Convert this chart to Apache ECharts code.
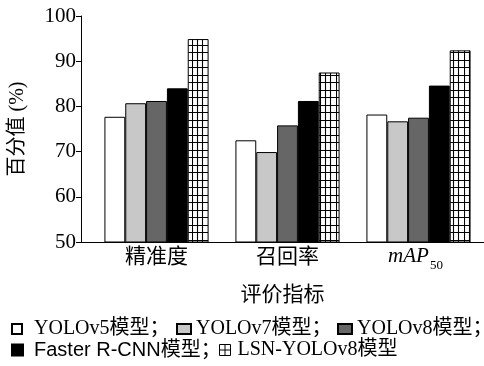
<!DOCTYPE html>
<html>
<head>
<meta charset="utf-8">
<script src="https://cdn.jsdelivr.net/npm/echarts@6/dist/echarts.min.js"></script>
<style>html,body{margin:0;padding:0;background:#fff}#c{width:484px;height:366px}</style>
</head>
<body>
<div id="c"></div>
<script>
const categories = ['精准度', '召回率', 'mAP50'];
const seriesNames = ['YOLOv5模型', 'YOLOv7模型', 'YOLOv8模型', 'Faster R-CNN模型', 'LSN-YOLOv8模型'];
const yolov5 = [77.7, 72.5, 78.2];
const yolov7 = [80.7, 69.9, 76.7];
const yolov8 = [81.2, 75.8, 77.5];
const fasterRcnn = [84.0, 81.2, 84.6];
const lsnYolov8 = [94.9, 87.5, 92.4];
const yMin = 50, yMax = 100, yStep = 10;
const yName = '百分值 (%)';
const xName = '评价指标';

const serif = "'Liberation Serif','Noto Sans CJK SC'";
const sans = "'Liberation Sans','Noto Sans CJK SC'";

const pc = document.createElement('canvas');
pc.width = 16; pc.height = 15;
const g = pc.getContext('2d');
g.fillStyle = '#fff'; g.fillRect(0, 0, 16, 15);
g.strokeStyle = '#000'; g.lineWidth = 1.1;
g.beginPath();
[0.5, 5.5, 10.5].forEach(x => { g.moveTo(x, 0); g.lineTo(x, 15); });
[0.5, 7.5].forEach(y => { g.moveTo(0, y); g.lineTo(16, y); });
g.stroke();

const fills = ['#ffffff', '#c8c8c8', '#666666', '#000000', { image: pc, repeat: 'repeat' }];
const values = [yolov5, yolov7, yolov8, fasterRcnn, lsnYolov8];

const chart = echarts.init(document.getElementById('c'), null, { renderer: 'canvas' });

function legendBox(name, left, top, w, h, padLeft, family, extra) {
  return Object.assign({
    data: [name], left: left, top: top, padding: 0, itemWidth: w, itemHeight: h,
    icon: 'rect', selectedMode: false, formatter: '{name}；',
    textStyle: { fontFamily: family, fontSize: 20, color: '#000', lineHeight: 22, padding: [0, 0, 0, padLeft] }
  }, extra || {});
}

chart.setOption({
  animation: false,
  backgroundColor: '#fff',
  grid: [
    { left: 91, top: 16, width: 404, height: 226 },
    { left: 81, top: 16, right: 0, height: 226 }
  ],
  legend: [
    legendBox(seriesNames[0], 11, 318, 10, 10, 7, serif),
    legendBox(seriesNames[1], 176, 318, 14, 10, 0, serif),
    legendBox(seriesNames[2], 337, 318, 14, 10, 0, serif),
    legendBox(seriesNames[3], 11, 339, 11, 11, 6, sans),
    legendBox({ name: seriesNames[4], icon: 'path://M0,0H10V10H0ZM5,0V10M0,5H10', itemStyle: { color: '#fff', borderColor: '#000', borderWidth: 1 } }, 219, 339, 11, 11, 2, serif, { formatter: '{name}' })
  ],
  xAxis: [
    {
      type: 'category', gridIndex: 0, data: categories,
      axisLine: { show: false }, axisTick: { show: false },
      axisLabel: {
        interval: 0, margin: 4, color: '#000', fontSize: 21, fontFamily: serif, lineHeight: 22,
        formatter: v => v === 'mAP50' ? '{i|mAP}{s|50}{e| }' : v,
        rich: {
          i: { fontStyle: 'italic', fontSize: 21, lineHeight: 22, verticalAlign: 'top', fontFamily: serif, color: '#000' },
          s: { fontSize: 13, lineHeight: 13, padding: [13, 0, 0, 1], verticalAlign: 'top', fontFamily: serif, color: '#000' },
          e: { width: 6, fontSize: 13 }
        }
      }
    },
    {
      type: 'value', gridIndex: 1, min: 0, max: 1,
      axisLine: { show: true, lineStyle: { color: '#000', width: 1 } },
      axisTick: { show: false }, axisLabel: { show: false }, splitLine: { show: false },
      name: xName, nameLocation: 'middle', nameGap: 43,
      nameTextStyle: { fontSize: 21, fontFamily: serif, color: '#000' }
    }
  ],
  yAxis: [
    {
      type: 'value', gridIndex: 0, min: yMin, max: yMax, interval: yStep, offset: 10,
      axisLine: { show: true, lineStyle: { color: '#000', width: 1 } },
      axisTick: { show: true, length: 5, lineStyle: { color: '#000' } },
      axisLabel: { margin: 5, color: '#000', fontSize: 21, fontFamily: serif },
      splitLine: { show: false },
      name: yName, nameLocation: 'middle', nameRotate: 90, nameGap: 53,
      nameTextStyle: { fontSize: 20, fontFamily: serif, color: '#000' }
    },
    { type: 'value', gridIndex: 1, show: false, min: 0, max: 1 }
  ],
  series: values.map((d, i) => ({
    name: seriesNames[i], type: 'bar', xAxisIndex: 0, yAxisIndex: 0, data: d,
    barGap: '0%', barCategoryGap: '20.5%',
    itemStyle: { color: fills[i], borderColor: '#000', borderWidth: 1 }
  }))
});
</script>
</body>
</html>
